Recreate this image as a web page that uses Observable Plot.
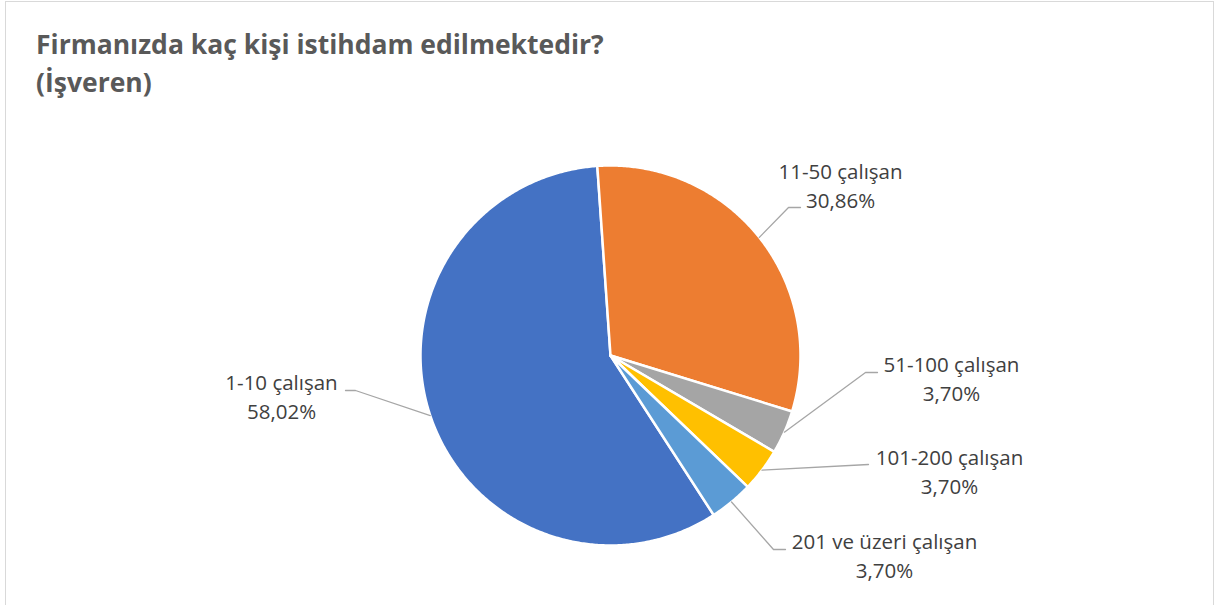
<!DOCTYPE html>
<html><head><meta charset="utf-8">
<script src="https://cdn.jsdelivr.net/npm/d3@7"></script>
<script src="https://cdn.jsdelivr.net/npm/@observablehq/plot@0.6"></script>
<style>
body{margin:0;background:#fff;}
#frame{position:absolute;left:5px;top:1px;width:1209px;height:640px;border:1px solid #d9d9d9;box-sizing:border-box;}
#title{position:absolute;left:36px;top:25px;font-family:"Open Sans";font-weight:700;font-size:26.5px;color:#595959;line-height:38px;white-space:nowrap;}
#chart{position:absolute;left:0;top:0;}
</style></head><body>
<div id="frame"></div>
<div id="chart"></div>
<div id="title">Firmanızda kaç kişi istihdam edilmektedir?<br>(İşveren)</div>
<script>
// ---- data ----
const categories = ["1-10 çalışan", "11-50 çalışan", "51-100 çalışan", "101-200 çalışan", "201 ve üzeri çalışan"];
const shares = [58.02, 30.86, 3.70, 3.70, 3.70];
const colors = ["#4472C4", "#ED7D31", "#A5A5A5", "#FFC000", "#5B9BD5"];

// ---- layout (offsets from pie centre, px, y downward) ----
const R = 190;
const startDeg = 147.1;
const labelLayout = [
  {elbow: [-255, 35], end: [-265, 35], label: [-329, 28]},
  {elbow: [178, -148], end: [190, -148], label: [230, -183]},
  {elbow: [255, 17], end: [267, 17], label: [341, 10]},
  {elbow: [258, 109], end: [258, 109], label: [339, 103]},
  {elbow: [163, 194], end: [175, 194], label: [274, 187]}
];
const lineGap = 29;

const fmt = v => d3.format(".2f")(v).replace(".", ",") + "%";

const arcs = d3.pie().sort(null)
  .startAngle(startDeg * Math.PI / 180)
  .endAngle(startDeg * Math.PI / 180 + 2 * Math.PI)(shares);

const slicePts = [];
arcs.forEach((a, i) => {
  const cat = categories[i];
  slicePts.push({cat, x: 0, y: 0});
  const n = Math.max(4, Math.ceil((a.endAngle - a.startAngle) / (Math.PI / 360)));
  for (let k = 0; k <= n; k++) {
    const t = a.startAngle + (a.endAngle - a.startAngle) * k / n;
    slicePts.push({cat, x: R * Math.sin(t), y: -R * Math.cos(t)});
  }
  slicePts.push({cat, x: 0, y: 0});
});

const leaderPts = [];
const labelRows = [];
arcs.forEach((a, i) => {
  const cat = categories[i];
  const m = (a.startAngle + a.endAngle) / 2;
  const L = labelLayout[i];
  leaderPts.push({cat, x: R * Math.sin(m), y: -R * Math.cos(m)});
  leaderPts.push({cat, x: L.elbow[0], y: L.elbow[1]});
  leaderPts.push({cat, x: L.end[0], y: L.end[1]});
  labelRows.push({x: L.label[0], y: L.label[1], text: cat});
  labelRows.push({x: L.label[0], y: L.label[1] + lineGap, text: fmt(shares[i])});
});

const chart = Plot.plot({
  width: 1215,
  height: 605,
  margin: 0,
  x: {domain: [-610, 605], axis: null},
  y: {domain: [-355, 250], reverse: true, axis: null},
  color: {domain: categories, range: colors},
  style: {background: "transparent", overflow: "visible"},
  marks: [
    Plot.line(slicePts, {x: "x", y: "y", z: "cat", fill: "cat", stroke: "white", strokeWidth: 2.5, strokeLinejoin: "round", curve: "linear"}),
    Plot.line(leaderPts, {x: "x", y: "y", z: "cat", stroke: "#a6a6a6", strokeWidth: 1.3}),
    Plot.text(labelRows, {x: "x", y: "y", text: "text", fontSize: 20.5, fill: "#404040", fontFamily: "Open Sans", textAnchor: "middle", lineAnchor: "middle"})
  ]
});
document.getElementById("chart").appendChild(chart);
</script>
</body></html>
